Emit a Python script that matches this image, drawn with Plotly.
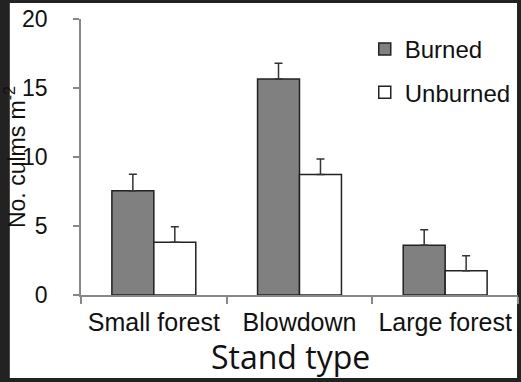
import plotly.graph_objects as go

categories = ["Small forest", "Blowdown", "Large forest"]
burned = [7.55, 15.65, 3.6]
burned_err = [1.2, 1.15, 1.13]
unburned = [3.82, 8.74, 1.76]
unburned_err = [1.13, 1.12, 1.09]
y_ticks = [0, 5, 10, 15, 20]

W, H = 521, 382
L, R, T, B = 76, 3, 19, 87
pw, ph = W - L - R, H - T - B

def px_x(p):
    return (p - L) / pw

def px_y(p):
    return (H - B - p) / ph

font = "Liberation Sans, Arial, sans-serif"

fig = go.Figure()
fig.add_trace(go.Bar(
    x=categories, y=burned, name="Burned", legendgroup="a",
    marker=dict(color="#808080", line=dict(color="#222222", width=1.5)),
    error_y=dict(type="data", array=burned_err, arrayminus=[0]*3, symmetric=False,
                 color="#333333", thickness=1.5, width=4),
))
fig.add_trace(go.Bar(
    x=categories, y=unburned, name="Unburned", legendgroup="b",
    marker=dict(color="#ffffff", line=dict(color="#222222", width=1.5)),
    error_y=dict(type="data", array=unburned_err, arrayminus=[0]*3, symmetric=False,
                 color="#333333", thickness=1.5, width=4),
))

fig.update_layout(
    width=W, height=H,
    margin=dict(l=L, r=R, t=T, b=B, pad=0),
    paper_bgcolor="#222222",
    plot_bgcolor="rgba(0,0,0,0)",
    barmode="group", bargap=0.424, bargroupgap=0,
    font=dict(family=font, color="#111111"),
    showlegend=True,
    legend=dict(x=px_x(363), y=px_y(27), xanchor="left", yanchor="top",
                font=dict(size=24, family=font, color="#111111"),
                bgcolor="rgba(0,0,0,0)", traceorder="grouped", tracegroupgap=9),
    shapes=[dict(type="rect", xref="paper", yref="paper", layer="below",
                 x0=px_x(4), x1=px_x(517), y0=px_y(378), y1=px_y(3),
                 fillcolor="#ffffff", line=dict(width=0))],
    annotations=[dict(text="Stand type", xref="paper", yref="paper",
                      x=px_x(288), y=px_y(356), xanchor="center", yanchor="middle",
                      showarrow=False, font=dict(family="Open Sans, sans-serif", size=32, color="#111111"))],
)
fig.update_xaxes(
    range=[-0.5, 2.5], showline=True, linecolor="#888888", linewidth=1.5,
    ticks="outside", tickson="boundaries", ticklen=7, tickcolor="#888888", tickwidth=1.5,
    ticklabelstandoff=4,
    tickfont=dict(size=25, family=font, color="#111111"), showgrid=False, zeroline=False,
)
fig.update_yaxes(
    range=[0, 20], tickvals=y_ticks, showline=True, linecolor="#888888", linewidth=1.5,
    ticks="outside", ticklen=6, tickcolor="#888888", tickwidth=1.5, ticklabelstandoff=21,
    tickfont=dict(size=23, family=font, color="#111111"), showgrid=False, zeroline=False,
    title=dict(text="No. culms m<sup>-2</sup>", font=dict(size=23, family=font, color="#111111"), standoff=3),
)
fig.write_html("out.html", config={"displayModeBar": False},
               post_script="document.body.style.margin='0px';document.body.style.overflow='hidden';")
